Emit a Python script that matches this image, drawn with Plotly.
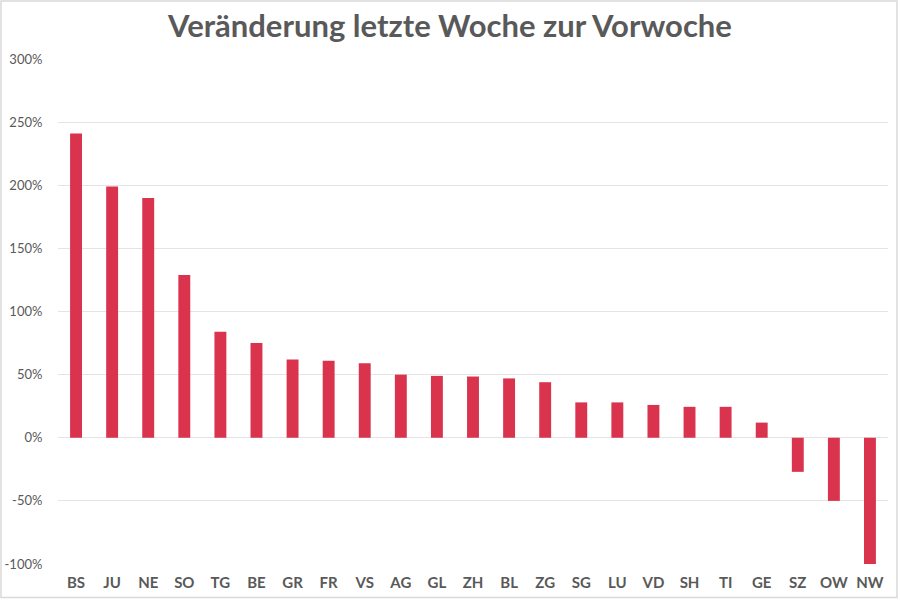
import plotly.graph_objects as go

cantons = ["BS", "JU", "NE", "SO", "TG", "BE", "GR", "FR", "VS", "AG", "GL", "ZH",
           "BL", "ZG", "SG", "LU", "VD", "SH", "TI", "GE", "SZ", "OW", "NW"]
change = [2.41, 1.99, 1.90, 1.29, 0.84, 0.75, 0.62, 0.61, 0.59, 0.50, 0.49, 0.485,
          0.47, 0.44, 0.28, 0.28, 0.26, 0.245, 0.245, 0.12, -0.27, -0.50, -1.00]
y_ticks = [-1.0, -0.5, 0.0, 0.5, 1.0, 1.5, 2.0, 2.5, 3.0]
y_labels = ["-100%", "-50%", "0%", "50%", "100%", "150%", "200%", "250%", "300%"]

title_text = "Veränderung letzte Woche zur Vorwoche"

ML, MR, MT, MB = 58, 12, 59, 36
W, H = 900, 600
pw, ph = W - ML - MR, H - MT - MB

fig = go.Figure(go.Bar(
    x=cantons, y=change,
    marker=dict(color="#D9334D", line=dict(width=0)),
    hoverinfo="x+y",
))

fig.update_layout(
    width=W, height=H,
    margin=dict(l=ML, r=MR, t=MT, b=MB, autoexpand=False),
    paper_bgcolor="white", plot_bgcolor="white",
    bargap=0.67,
    showlegend=False,
    font=dict(family="Lato, sans-serif", color="#595959"),
    title=dict(text="<b>" + title_text + "</b>", x=0.5, xanchor="center",
               y=1 - 26 / H, yanchor="middle",
               font=dict(family="Lato, sans-serif", size=31, color="#595959")),
    xaxis=dict(
        automargin=False,
        showgrid=False, zeroline=False, showline=False,
        ticks="outside", ticklen=5, tickcolor="rgba(0,0,0,0)",
        tickfont=dict(family="Lato, sans-serif", size=15, color="#595959", weight="bold"),
    ),
    yaxis=dict(
        automargin=False,
        range=[-1.0, 3.0], tickvals=y_ticks, ticktext=y_labels,
        showgrid=True, gridcolor="#E4E4E4", gridwidth=1,
        zeroline=True, zerolinecolor="#E4E4E4", zerolinewidth=1,
        showline=False,
        ticks="outside", ticklen=12, tickcolor="rgba(0,0,0,0)",
        tickfont=dict(family="Lato, sans-serif", size=13, color="#595959"),
    ),
    shapes=[dict(
        type="rect", xref="paper", yref="paper",
        x0=(1 - ML) / pw, x1=(897 - ML) / pw,
        y0=(H - MB - 597.5) / ph, y1=(H - MB - 1) / ph,
        line=dict(color="#D9D9D9", width=1.5), fillcolor="rgba(0,0,0,0)",
        layer="below",
    )],
)

fig.write_html("out.html")
